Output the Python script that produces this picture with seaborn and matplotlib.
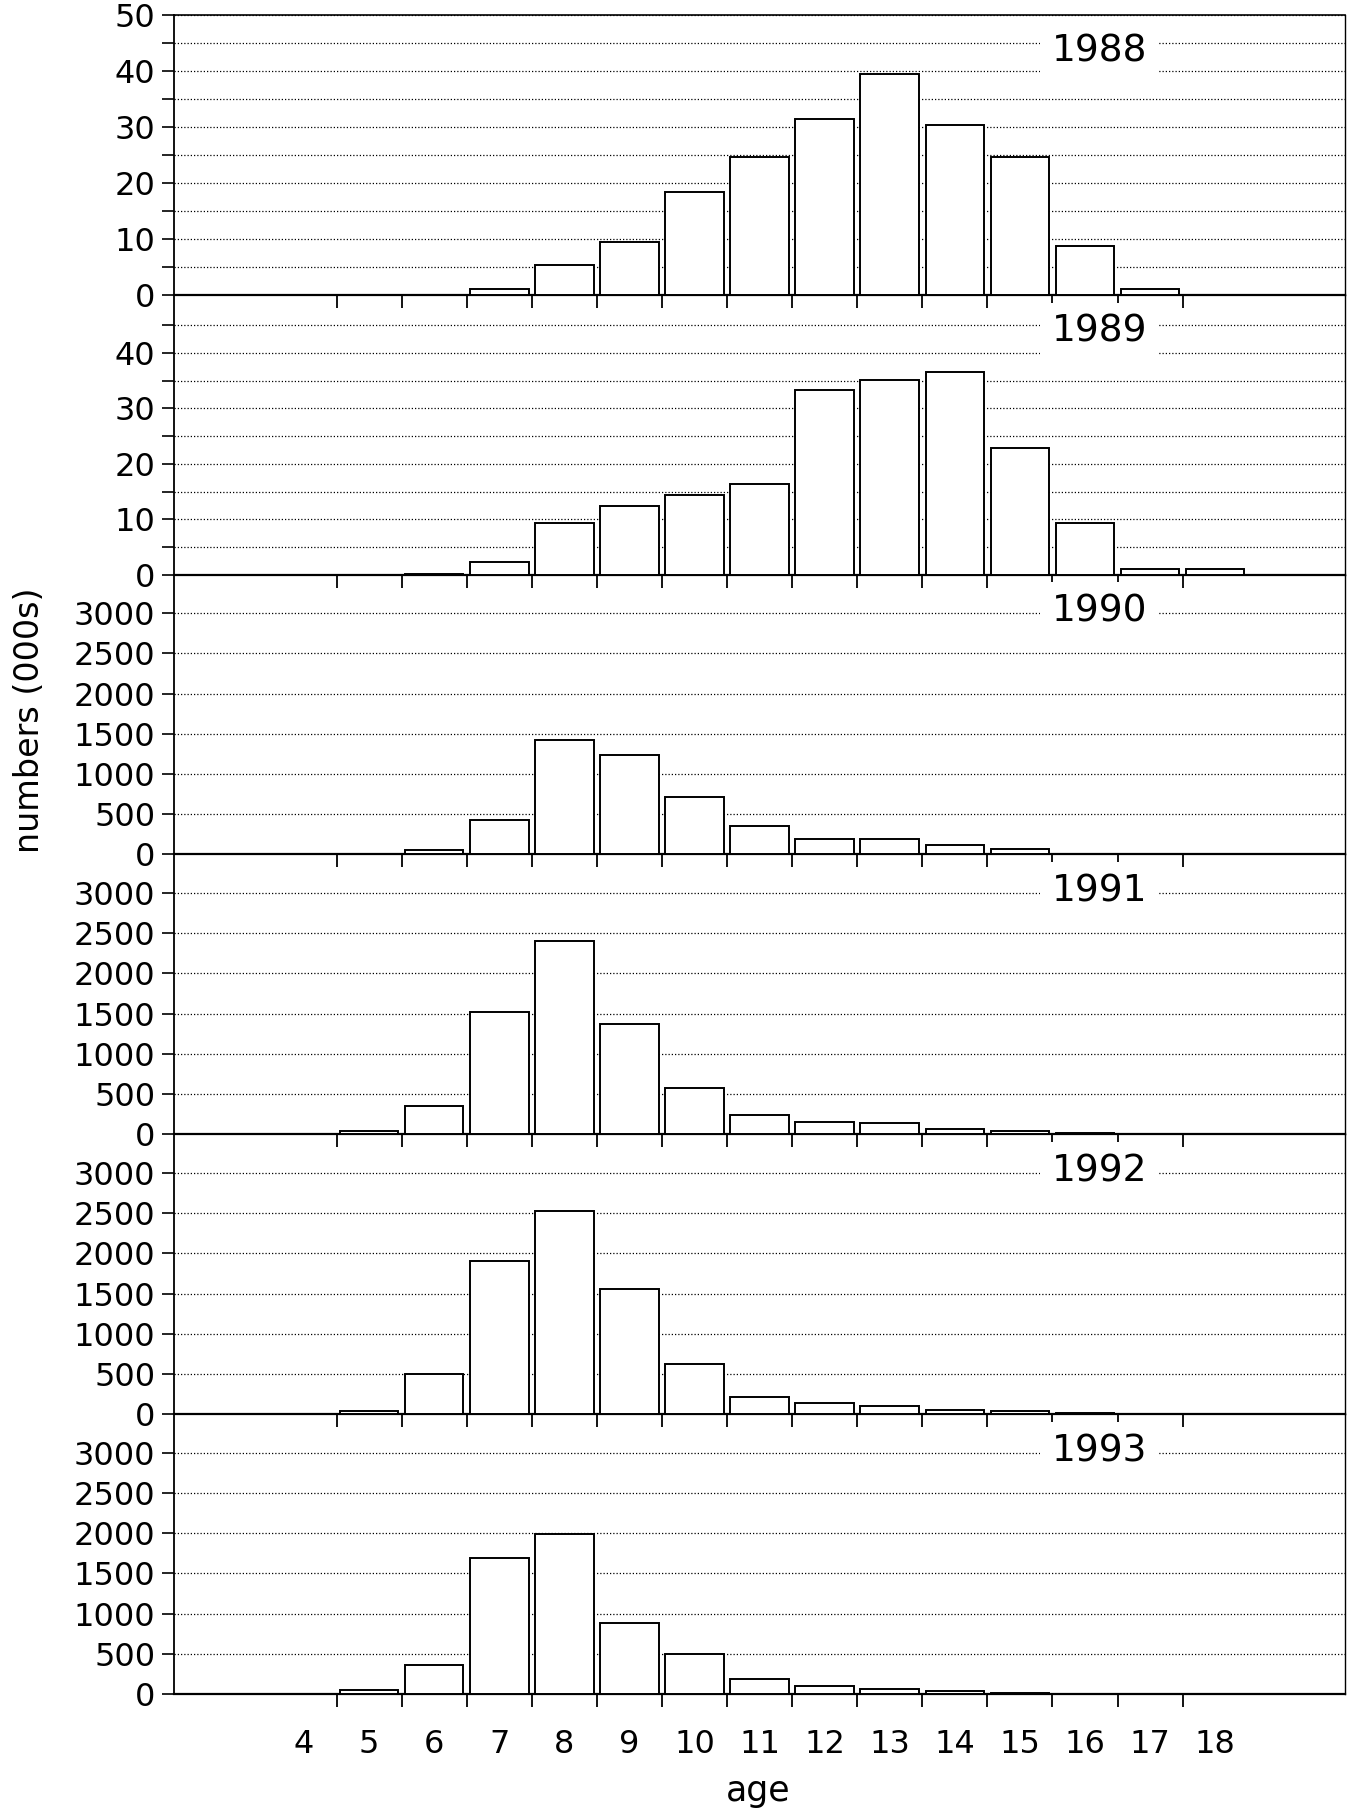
import numpy as np
import pandas as pd
import matplotlib
matplotlib.use("Agg")
import matplotlib.pyplot as plt
import seaborn as sns
from matplotlib.ticker import FixedLocator

# ages on the x axis (bars)
ages = list(range(4, 19))

# numbers (000s) per age
n1988 = [0, 0, 0, 1.0, 5.4, 9.4, 18.3, 24.6, 31.4, 39.5, 30.3, 24.7, 8.7, 1.1, 0]
n1989 = [0, 0, 0.1, 2.2, 9.3, 12.4, 14.3, 16.3, 33.4, 35.2, 36.5, 22.8, 9.3, 1.0, 1.0]
n1990 = [0, 12, 55, 430, 1425, 1240, 710, 360, 195, 195, 115, 70, 5, 8, 0]
n1991 = [0, 45, 350, 1525, 2410, 1370, 580, 235, 155, 140, 65, 45, 15, 5, 5]
n1992 = [5, 40, 500, 1910, 2530, 1560, 620, 215, 140, 105, 46, 35, 10, 5, 5]
n1993 = [0, 45, 355, 1690, 1990, 885, 500, 190, 105, 62, 42, 10, 5, 5, 0]

years = [1988, 1989, 1990, 1991, 1992, 1993]
series = [n1988, n1989, n1990, n1991, n1992, n1993]

# y tick labels per panel
small_major = [0, 10, 20, 30, 40, 50]
small_minor = [5, 15, 25, 35, 45]
big_major = [0, 500, 1000, 1500, 2000, 2500, 3000]


def main():
    sns.set_theme(style="ticks")
    plt.rcParams["font.family"] = ["DejaVu Sans"]
    plt.rcParams["text.color"] = "black"
    plt.rcParams["xtick.color"] = "black"
    plt.rcParams["ytick.color"] = "black"

    fig, axes = plt.subplots(6, 1, figsize=(13.48, 18.09), dpi=100, sharex=True)
    fig.subplots_adjust(left=0.129, right=0.998, top=0.9917, bottom=0.0636, hspace=0)

    for i, (ax, year, vals) in enumerate(zip(axes, years, series)):
        df = pd.DataFrame({"age": ages, "n": vals})
        sns.barplot(data=df, x="age", y="n", native_scale=True, width=0.9,
                    color="white", saturation=1, edgecolor="black",
                    linewidth=1.4, ax=ax, zorder=3)
        ax.set_facecolor("none")
        ax.set_axisbelow(True)

        # y scale
        if i == 0:
            ax.set_ylim(0, 50)
            ax.yaxis.set_major_locator(FixedLocator(small_major))
            ax.yaxis.set_minor_locator(FixedLocator(small_minor))
        elif i == 1:
            ax.set_ylim(0, 50.5)
            ax.yaxis.set_major_locator(FixedLocator(small_major[:-1]))
            ax.yaxis.set_minor_locator(FixedLocator(small_minor))
        else:
            ax.set_ylim(0, 3480)
            ax.yaxis.set_major_locator(FixedLocator(big_major))
        ax.yaxis.grid(True, which="both", linestyle=(0, (1, 1.6)),
                      linewidth=0.9, color="black")
        ax.xaxis.grid(False)

        # x scale: labels at ages, tick marks at bar edges
        ax.set_xlim(2, 20)
        ax.xaxis.set_major_locator(FixedLocator(ages))
        ax.xaxis.set_minor_locator(FixedLocator([a + 0.5 for a in ages[:-1]]))
        ax.tick_params(axis="x", which="major", length=0, labelsize=23, pad=25,
                       labelbottom=(i == len(axes) - 1))
        ax.tick_params(axis="x", which="minor", length=9, width=1.3, direction="out")
        ax.tick_params(axis="y", which="both", length=8.5, width=1.2,
                       direction="out", labelsize=23, pad=5)

        for side in ["left", "right", "bottom", "top"]:
            ax.spines[side].set_color("black")
        ax.spines["top"].set_visible(i == 0)
        ax.spines["top"].set_linewidth(1.2)
        ax.spines["left"].set_linewidth(1.3)
        ax.spines["right"].set_linewidth(1.0)
        ax.spines["bottom"].set_linewidth(1.6)

        ax.set_xlabel("")
        ax.set_ylabel("")

        ax.text(0.79, 0.868, str(year), transform=ax.transAxes, ha="center",
                va="center", fontsize=27, zorder=4,
                bbox=dict(boxstyle="square,pad=0.3", fc="white", ec="none"))

    fig.text(0.5625, 0.010, "age", ha="center", va="center", fontsize=25)
    fig.text(0.022, 0.602, "numbers (000s)", ha="center", va="center",
             rotation=90, fontsize=24)

    fig.savefig("out.png", dpi=100, facecolor="white")
    plt.close(fig)


if __name__ == "__main__":
    main()
